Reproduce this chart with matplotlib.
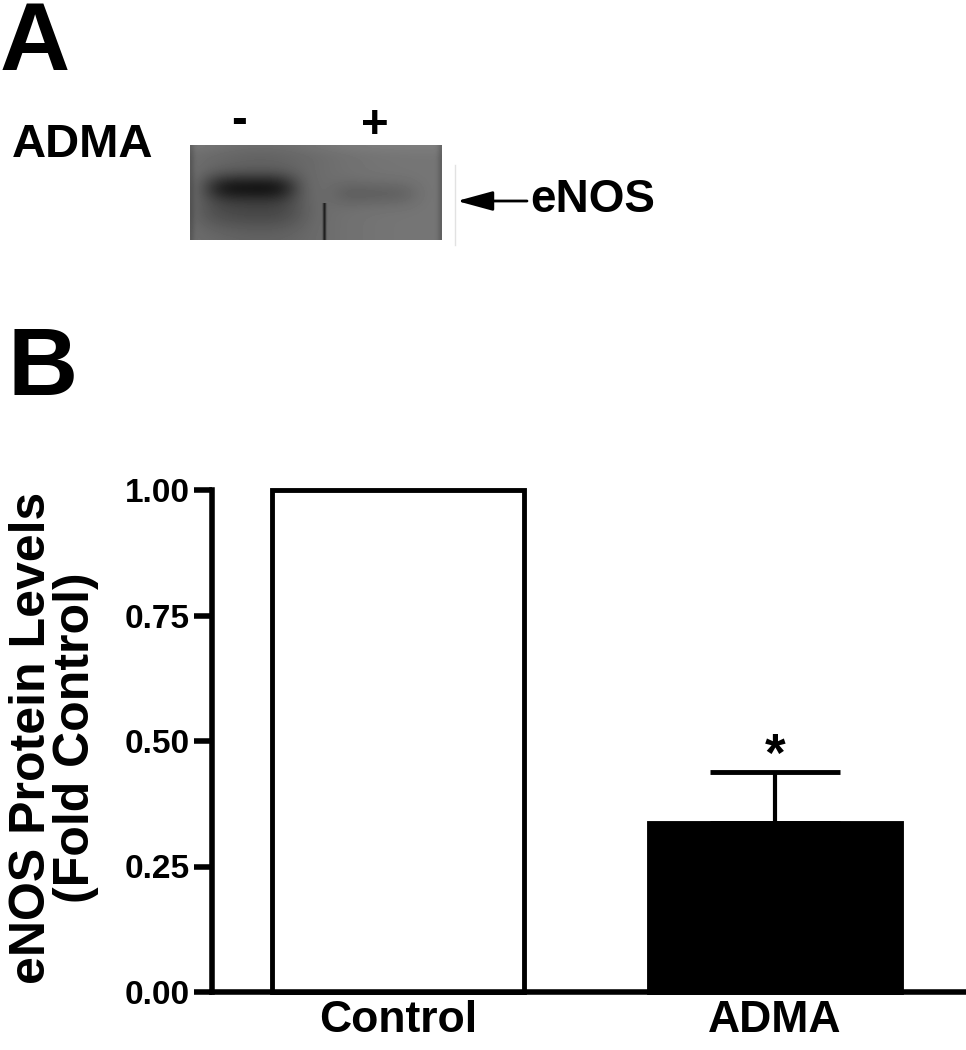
import numpy as np
import matplotlib
matplotlib.use("Agg")
import matplotlib.pyplot as plt
from matplotlib.patches import FancyArrowPatch
from matplotlib.lines import Line2D

plt.rcParams['font.family'] = ['Liberation Sans', 'DejaVu Sans']
plt.rcParams['font.weight'] = 'bold'

# data
groups = ["Control", "ADMA"]
fold_control = [1.00, 0.337]
err_upper = [0.0, 0.101]
bar_faces = ["white", "black"]
yticks = [0.00, 0.25, 0.50, 0.75, 1.00]
lane_signs = ["-", "+"]

W, H = 966, 1050
fig = plt.figure(figsize=(W / 100, H / 100), dpi=100)


def fx(px):
    return px / W


def fy(py):
    return 1 - py / H


# ---- panel A: western blot ----
fig.text(fx(0), fy(70), "A", fontsize=70, ha="left", va="baseline")
fig.text(fx(12), fy(157), "ADMA", fontsize=34, ha="left", va="baseline")
fig.text(fx(239), fy(133), lane_signs[0], fontsize=34, ha="center", va="baseline")
fig.text(fx(375), fy(138), lane_signs[1], fontsize=34, ha="center", va="baseline")

# blot picture (smooth grey gel with a dark band in lane 1, faint in lane 2)
rows, cols = 95, 252
yy, xx = np.mgrid[0:rows, 0:cols]
gel = np.full((rows, cols), 0.46)
gel -= 0.07 * np.exp(-((xx - 70) / 75.0) ** 2)            # left lane a bit darker
gel -= 0.28 * np.exp(-((xx - 60) / 46.0) ** 4) * np.exp(-((yy - 42) / 14.0) ** 2)
gel -= 0.10 * np.exp(-((xx - 60) / 55.0) ** 4) * np.exp(-((yy - 66) / 18.0) ** 2)
gel -= 0.07 * np.exp(-((xx - 185) / 42.0) ** 4) * np.exp(-((yy - 48) / 13.0) ** 2)
gel -= 0.30 * np.exp(-((xx - 134) / 1.6) ** 2) * (yy > 57)  # scratch
gel -= 0.08 * np.exp(-(xx / 4.0) ** 2)
gel -= 0.08 * np.exp(-((cols - 1 - xx) / 4.0) ** 2)
gel += 0.03 * np.exp(-(yy / 8.0) ** 2)
blot_ax = fig.add_axes([fx(190), fy(240), fx(252), 95 / H])
blot_ax.imshow(gel, cmap="gray", vmin=0, vmax=1, aspect="auto", interpolation="bilinear")
blot_ax.axis("off")

fig.add_artist(Line2D([fx(455), fx(455)], [fy(165), fy(245)], color="#e2e2e2", lw=1))
fig.add_artist(FancyArrowPatch((fx(527), fy(201)), (fx(457), fy(201)), transform=fig.transFigure,
                               arrowstyle="-|>,head_length=1.1,head_width=0.3",
                               mutation_scale=20, lw=2, color="black", shrinkA=0, shrinkB=0))
fig.text(fx(530), fy(212), "eNOS", fontsize=33, ha="left", va="baseline")

# ---- panel B: bar chart ----
fig.text(fx(8), fy(395), "B", fontsize=70, ha="left", va="baseline")

ax = fig.add_axes([fx(212), fy(992), fx(964 - 212), (992 - 490) / H])
x = np.arange(len(groups))
bars = ax.bar(x, fold_control, width=0.67, color=bar_faces, edgecolor="black",
              linewidth=3.5, zorder=2)
for b in bars:
    b.set_clip_on(False)
ax.errorbar(x[1:], fold_control[1:], yerr=[[0], err_upper[1:]], fmt="none",
            ecolor="black", elinewidth=3, capsize=47, capthick=3.5, zorder=1)
ax.text(x[1], fold_control[1] + err_upper[1] - 0.02, "*", fontsize=38,
        ha="center", va="bottom")

ax.set_xlim(-0.493, 1.501)
ax.set_ylim(0, 1.0)
ax.set_yticks(yticks)
ax.set_yticklabels([f"{t:.2f}" for t in yticks])
ax.set_xticks(x)
ax.set_xticklabels(groups)
ax.tick_params(axis="y", direction="out", length=13, width=4, pad=3, labelsize=24)
ax.tick_params(axis="x", length=0, pad=6, labelsize=32)
for s in ["top", "right"]:
    ax.spines[s].set_visible(False)
for s in ["left", "bottom"]:
    ax.spines[s].set_linewidth(4)

fig.text(fx(54), fy(738), "eNOS Protein Levels\n(Fold Control)", fontsize=36,
         rotation=90, ha="center", va="center", multialignment="center", linespacing=0.93)

fig.savefig("out.png", dpi=100)
